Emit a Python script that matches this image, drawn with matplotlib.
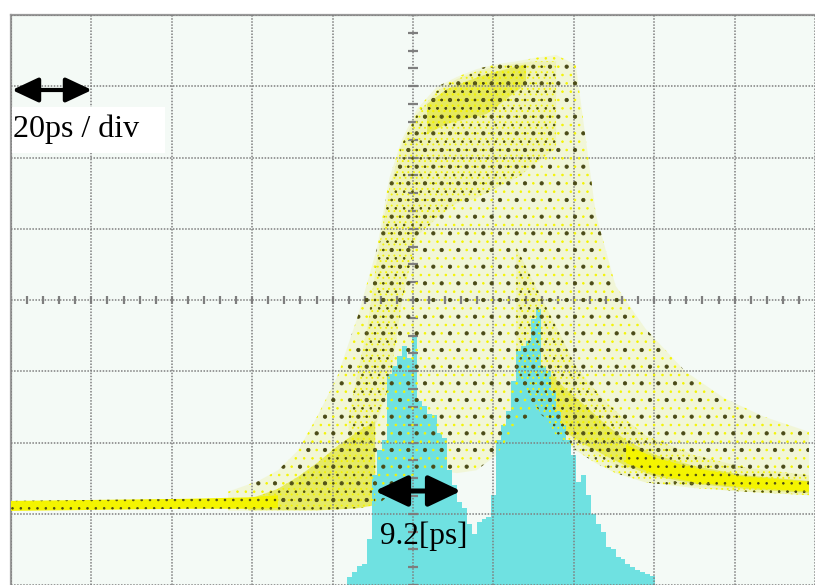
import numpy as np
import matplotlib
matplotlib.use("Agg")
import matplotlib.pyplot as plt
from matplotlib.patches import FancyArrowPatch, Rectangle, ArrowStyle

# ---------------- data (time in ps, amplitude in screen divisions) ----------------
# histogram of the two pulses (cyan), 1.235 ps bins starting at 83.7 ps
hist_start = 83.7
hist_bin = 1.235
hist_heights = [0.11, 0.18, 0.26, 0.29, 0.64, 1.54, 1.89, 2.03, 2.96, 3.07,
                3.21, 3.35, 3.18, 3.49, 2.58, 2.51, 2.40, 2.38, 2.14, 2.07,
                1.61, 1.40, 1.17, 1.08, 0.85, 0.71, 0.88, 0.92, 0.96, 1.26,
                2.03, 2.24, 2.44, 2.86, 3.28, 3.35, 3.42, 3.74, 3.88, 3.07,
                3.00, 2.72, 2.44, 2.24, 2.03, 1.82, 1.44, 1.54, 1.26, 0.99,
                0.85, 0.74, 0.53, 0.50, 0.40, 0.36, 0.29, 0.25, 0.21, 0.18,
                0.15, 0.13]

# sparse envelope of the sampled waveform cloud
sparse_x = [54, 61.5, 66.4, 71.4, 76.3, 81.2, 86.2, 91.1, 94.1, 97.3, 101.0, 105.9, 110.9,
            115.8, 120.7, 125.7, 130.6, 135.6, 140.5, 145.5, 150.4, 157.8, 167.7, 177.5, 187.4, 198.5]
sparse_hi = [1.31, 1.46, 1.61, 1.89, 2.38, 2.93, 3.76, 4.74, 5.71, 6.26, 6.68, 6.99, 7.13,
             7.24, 7.31, 7.35, 7.40, 7.44, 7.30, 5.2, 4.2, 3.6, 3.0, 2.62, 2.36, 2.15]
sparse_lo = [1.04, 1.04, 1.04, 1.04, 1.04, 1.06, 1.07, 1.125, 1.26, 1.43, 1.57, 1.61, 1.57,
             1.61, 1.82, 2.24, 2.44, 2.24, 1.99, 1.82, 1.68, 1.54, 1.40, 1.33, 1.29, 1.26]

# medium-density region: rising edge and top of the pulse
rise_x = [84.0, 88.7, 91.1, 94.1, 97.3, 101.0, 105.9, 110.9,
          115.8, 120.7, 125.7, 130.6, 135.6]
rise_hi = [2.38, 3.63, 4.60, 5.57, 6.19, 6.61, 6.93, 7.10,
           7.21, 7.28, 7.32, 7.35, 7.35]
rise_lo = [1.90, 2.10, 2.30, 2.80, 4.00, 4.90, 5.15, 5.36,
           5.43, 5.57, 5.71, 5.92, 6.13]

# medium-density region: falling edge
fall_x = [125.7, 130.6, 135.6, 140.5, 145.5, 150.4, 157.8, 170.1, 182.5, 198.5]
fall_hi = [4.74, 4.18, 3.63, 3.07, 2.72, 2.44, 2.10, 1.82, 1.65, 1.54]
fall_lo = [2.93, 2.51, 2.10, 1.89, 1.71, 1.57, 1.44, 1.36, 1.31, 1.26]

# dense dots: lower rising wedge
wedge_x = [59, 66.4, 71.4, 76.3, 81.2, 86.2, 90.6]
wedge_hi = [1.20, 1.35, 1.52, 1.72, 1.95, 2.15, 2.30]
wedge_lo = [1.05, 1.05, 1.05, 1.05, 1.06, 1.08, 1.12]

# dense dots: top cluster
top_x = [103.5, 108.4, 113.3, 118.3, 123.2, 128.1]
top_hi = [6.75, 6.96, 7.07, 7.17, 7.24, 7.31]
top_lo = [6.33, 6.47, 6.54, 6.61, 6.82, 7.03]

# dense dots: falling core
core_x = [133, 138, 143, 148, 153, 160, 170, 182.5, 198.5]
core_hi = [3.03, 2.75, 2.51, 2.25, 2.03, 1.83, 1.67, 1.54, 1.46]
core_lo = [2.42, 2.14, 1.96, 1.81, 1.67, 1.53, 1.42, 1.35, 1.29]

# solid baseline trace (left) and tail (right)
base_x = [0, 22, 44, 59, 66.4]
base_hi = [1.18, 1.195, 1.21, 1.23, 1.26]
base_lo = [1.04, 1.055, 1.07, 1.07, 1.08]

tail_x = [153, 160, 170, 182.5, 198.5]
tail_hi = [1.97, 1.79, 1.64, 1.52, 1.45]
tail_lo = [1.71, 1.56, 1.44, 1.37, 1.31]

scale_label = "20ps / div"
width_label = "9.2[ps]"

# ---------------- styling ----------------
W, H, DPI = 815, 585, 100
YEL = "#f4f400"
DARK = "#4a4a18"
CYAN = "#6fe1e1"
GRID = "#7e7e7e"
TINT = "#e8ec70"
TINT_DENSE = "#e2e640"

plt.rcParams["hatch.linewidth"] = 0.6

fig = plt.figure(figsize=(W / DPI, H / DPI), dpi=DPI, facecolor="white")
# screen: left edge at x=11px, top at y=15px, 81 px per 20 ps, 72 px per division
ax = fig.add_axes([11 / W, 0, 1 - 11 / W, 1 - 15 / H])
ax.set_xlim(0, (W - 11) / 81 * 20)
ax.set_ylim((591 - 585) / 72, 8)
ax.set_facecolor("#f4faf6")

# histogram
edges = hist_start + hist_bin * np.arange(len(hist_heights))
ax.bar(edges, hist_heights, width=hist_bin, align="edge", color=CYAN,
       linewidth=0, zorder=1)

# graticule
ax.set_xticks(np.arange(0, 201, 20))
ax.set_yticks(np.arange(0, 9, 1))
ax.tick_params(length=0, labelbottom=False, labelleft=False)
ax.grid(True, color=GRID, linestyle=(0, (1, 1)), linewidth=1.1, zorder=2)
ax.set_axisbelow(False)
for s in ("right", "bottom"):
    ax.spines[s].set_visible(False)
for s in ("left", "top"):
    ax.spines[s].set_color("#9a9a9a")
    ax.spines[s].set_linewidth(1.6)

# center-line minor ticks
mx = np.arange(0, 200, 4)
ax.plot(mx, np.full_like(mx, 4.0, dtype=float), ls="none", marker="|",
        ms=6, mew=1.6, color=GRID, zorder=2.5)
my = np.arange(0, 8.01, 0.25)
ax.plot(np.full_like(my, 100.0), my, ls="none", marker="_",
        ms=7, mew=1.6, color=GRID, zorder=2.5)


def region(x, lo, hi, hatch=None, color="none", face="none", z=3, alpha=None):
    xs = np.concatenate([x, x[::-1]])
    ys = np.concatenate([hi, lo[::-1]])
    ax.fill(xs, ys, facecolor=face, edgecolor=color, hatch=hatch,
            linewidth=0, zorder=z, alpha=alpha)


def A(v):
    return np.asarray(v, dtype=float)


# sparse cloud: faint tint below the histogram, dots above it
sx, slo, shi = A(sparse_x), A(sparse_lo), A(sparse_hi)
region(sx, slo, shi, face=TINT, z=0.5, alpha=0.22)
region(sx, slo, shi, hatch="..", color=YEL, z=3)
region(sx, slo, shi, hatch=".", color=DARK, z=3.1)
# medium density
for xx, lo, hi in ((rise_x, rise_lo, rise_hi), (fall_x, fall_lo, fall_hi)):
    region(A(xx), A(lo), A(hi), face=TINT, z=0.6, alpha=0.3)
    region(A(xx), A(lo), A(hi), hatch="...", color=YEL, z=3.2)
    region(A(xx), A(lo), A(hi), hatch="..", color=DARK, z=3.3)
# dense dots
for xx, lo, hi in ((wedge_x, wedge_lo, wedge_hi), (top_x, top_lo, top_hi),
                   (core_x, core_lo, core_hi)):
    region(A(xx), A(lo), A(hi), face=TINT_DENSE, z=0.7, alpha=0.75)
    region(A(xx), A(lo), A(hi), hatch="...", color=YEL, z=3.4)
    region(A(xx), A(lo), A(hi), hatch="..", color=DARK, z=3.5)
# solid traces
for xx, lo, hi in ((base_x, base_lo, base_hi), (tail_x, tail_lo, tail_hi)):
    region(A(xx), A(lo), A(hi), face=YEL, z=3.6)
    region(A(xx), A(lo), A(hi), hatch="..", color=DARK, z=3.7)

# ---------------- annotations (figure pixel placement) ----------------
def fx(px):
    return px / W


def fy(py):
    return 1 - py / H


fig.patches.append(Rectangle((fx(12), fy(153)), fx(165) - fx(12), fy(107) - fy(153),
                             transform=fig.transFigure, facecolor="white",
                             edgecolor="none", zorder=10))
fig.text(fx(13), fy(137), scale_label, fontsize=23, family="Liberation Serif",
         ha="left", va="baseline", zorder=11)
fig.text(fx(380), fy(544), width_label, fontsize=22.5, family="Liberation Serif",
         ha="left", va="baseline", zorder=11)

a1 = FancyArrowPatch((fx(12), fy(90)), (fx(92), fy(90)), transform=fig.transFigure,
                     arrowstyle=ArrowStyle("<|-|>", head_length=16, head_width=7.5),
                     mutation_scale=1, lw=3.0, color="black", shrinkA=0, shrinkB=0,
                     zorder=12)
a2 = FancyArrowPatch((fx(375), fy(491)), (fx(461), fy(491)), transform=fig.transFigure,
                     arrowstyle=ArrowStyle("<|-|>", head_length=20, head_width=9.5),
                     mutation_scale=1, lw=3.6, color="black", shrinkA=0, shrinkB=0,
                     zorder=12)
fig.patches.append(a1)
fig.patches.append(a2)

fig.savefig("out.png", dpi=DPI, facecolor="white")
